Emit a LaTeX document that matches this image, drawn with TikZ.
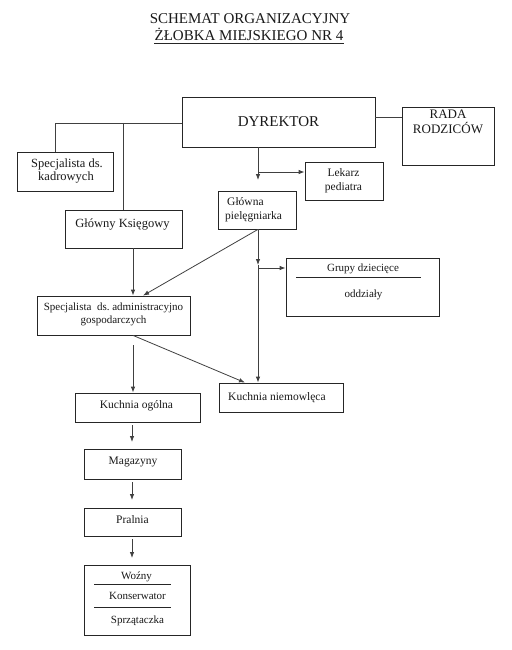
\documentclass[tikz,border=0pt]{standalone}
\usepackage{fontspec}
\setmainfont{Liberation Serif}
\usetikzlibrary{arrows.meta}
\newcommand\fsTitle{\fontsize{15}{18}\selectfont}
\newcommand\fsBig{\fontsize{15}{18}\selectfont}
\newcommand\fsRada{\fontsize{13}{15}\selectfont}
\newcommand\fsMid{\fontsize{12.5}{15}\selectfont}
\newcommand\fsSm{\fontsize{11.5}{14}\selectfont}
\newcommand\fsXs{\fontsize{11}{13}\selectfont}
\begin{document}
\begin{tikzpicture}[x=1pt,y=-1pt,
  box/.style={draw=black!85,line width=0.8pt,inner sep=0pt,minimum width=#1},
  txt/.style={inner sep=0pt,text=black!90},
  ln/.style={draw=black!75,line width=0.8pt},
  arr/.style={ln,-{Latex[length=6pt,width=4.5pt]}}]
\useasboundingbox[fill=white] (0,0) rectangle (511,650);
% title
\node[txt,anchor=base,font=\fsTitle] (t1) at (250,24) {SCHEMAT ORGANIZACYJNY};
\node[txt,anchor=base,font=\fsTitle] (t2) at (249,41) {ŻŁOBKA MIEJSKIEGO NR 4};
\draw[black!85,line width=0.7pt] ([yshift=-2.5pt]t2.base west) -- ([yshift=-2.5pt]t2.base east);
% boxes
\node[box=193pt,minimum height=50pt] (dyr) at (278.5,122) {};
\node[box=92pt,minimum height=58pt] (rada) at (448,136) {};
\node[box=96pt,minimum height=39pt] (kadr) at (65,171.5) {};
\node[box=117pt,minimum height=38pt] (ksieg) at (123.5,229) {};
\node[box=78pt,minimum height=38pt] (lek) at (344,181) {};
\node[box=78pt,minimum height=38pt] (piel) at (257,210) {};
\node[box=153pt,minimum height=58pt] (grupy) at (362.5,287) {};
\node[box=153pt,minimum height=39pt] (adm) at (113.5,315.5) {};
\node[box=124pt,minimum height=29pt] (kn) at (281,397.5) {};
\node[box=125pt,minimum height=29pt] (ko) at (137.5,407.5) {};
\node[box=97pt,minimum height=30pt] (mag) at (132.5,464) {};
\node[box=97pt,minimum height=28pt] (pral) at (132.5,522) {};
\node[box=106pt,minimum height=70pt] (woz) at (137,600) {};
% texts
\node[txt,anchor=base,font=\fsBig] (tdyr) at (278.5,127) {DYREKTOR};
\node[txt,anchor=base,font=\fsRada] (trada1) at (448,119) {RADA};
\node[txt,anchor=base,font=\fsRada] (trada2) at (448,134) {RODZICÓW};
\node[txt,anchor=base,font=\fsMid] (tkadr1) at (67,167) {Specjalista ds.};
\node[txt,anchor=base,font=\fsMid] (tkadr2) at (66,180.5) {kadrowych};
\node[txt,anchor=base,font=\fsMid] (tksieg) at (122.5,227.5) {Główny Księgowy};
\node[txt,anchor=base,font=\fsSm] (tlek1) at (343.5,176) {Lekarz};
\node[txt,anchor=base,font=\fsSm] (tlek2) at (343.5,190) {pediatra};
\node[txt,anchor=base west,font=\fsSm] (tpiel1) at (227,205) {Główna};
\node[txt,anchor=base west,font=\fsSm] (tpiel2) at (225,219) {pielęgniarka};
\node[txt,anchor=base,font=\fsXs] (tgr1) at (363,271) {Grupy dziecięce};
\draw[black!85,line width=0.7pt] (296,277) -- (421,277);
\node[txt,anchor=base,font=\fsXs] (tgr2) at (363.5,297) {oddziały};
\node[txt,anchor=base,font=\fsXs] (tadm1) at (113.5,310) {Specjalista\ \ ds.\ administracyjno};
\node[txt,anchor=base,font=\fsXs] (tadm2) at (113.5,323) {gospodarczych};
\node[txt,anchor=base west,font=\fsSm] (tkn) at (228,400) {Kuchnia niemowlęca};
\node[txt,anchor=base,font=\fsSm] (tko) at (136.5,408) {Kuchnia ogólna};
\node[txt,anchor=base,font=\fsSm] (tmag) at (133,464) {Magazyny};
\node[txt,anchor=base,font=\fsSm] (tpral) at (132.5,523) {Pralnia};
\node[txt,anchor=base,font=\fsXs] (twoz1) at (136.5,579) {Woźny};
\draw[black!85,line width=0.7pt] (94,584) -- (171,584);
\node[txt,anchor=base,font=\fsXs] (twoz2) at (137.5,599) {Konserwator};
\draw[black!85,line width=0.7pt] (94,607) -- (171,607);
\node[txt,anchor=base,font=\fsXs] (twoz3) at (137.5,623) {Sprzątaczka};
% connectors
\coordinate (jK) at (55,123);
\draw[ln] (dyr.west |- jK) -- (jK) -- (jK |- kadr.north);
\draw[ln] (ksieg.north |- jK) -- (ksieg.north);
\coordinate (jR) at (388,117);
\draw[ln] (jR -| dyr.east) -- (jR -| rada.west);
\coordinate (eD) at (258,180);
\coordinate (jD) at (258,172);
\draw[arr] (eD |- dyr.south) -- (eD);
\draw[arr] (jD) -- (jD -| lek.west);
\coordinate (mP) at (258,265);
\coordinate (jP) at (258,268);
\draw[arr] (mP |- piel.south) -- (mP);
\draw[arr] (mP) -- (mP |- kn.north);
\draw[arr] (jP) -- (jP -| grupy.west);
\coordinate (aT) at (143,0);
\draw[arr] (mP |- piel.south) -- (aT |- adm.north);
\coordinate (xK) at (133,0);
\draw[arr] (xK |- ksieg.south) -- (xK |- adm.north);
\coordinate (kT) at (245,0);
\draw[arr] (xK |- adm.south) -- (kT |- kn.north);
\coordinate (s1) at (133,345);
\draw[arr] (s1) -- (xK |- ko.north);
\coordinate (s2) at (132,425);
\coordinate (e2) at (132,442);
\draw[arr] (s2) -- (e2);
\coordinate (s3) at (132,482);
\coordinate (e3) at (132,500);
\draw[arr] (s3) -- (e3);
\coordinate (s4) at (132,539);
\coordinate (e4) at (132,558);
\draw[arr] (s4) -- (e4);
\end{tikzpicture}
\end{document}
